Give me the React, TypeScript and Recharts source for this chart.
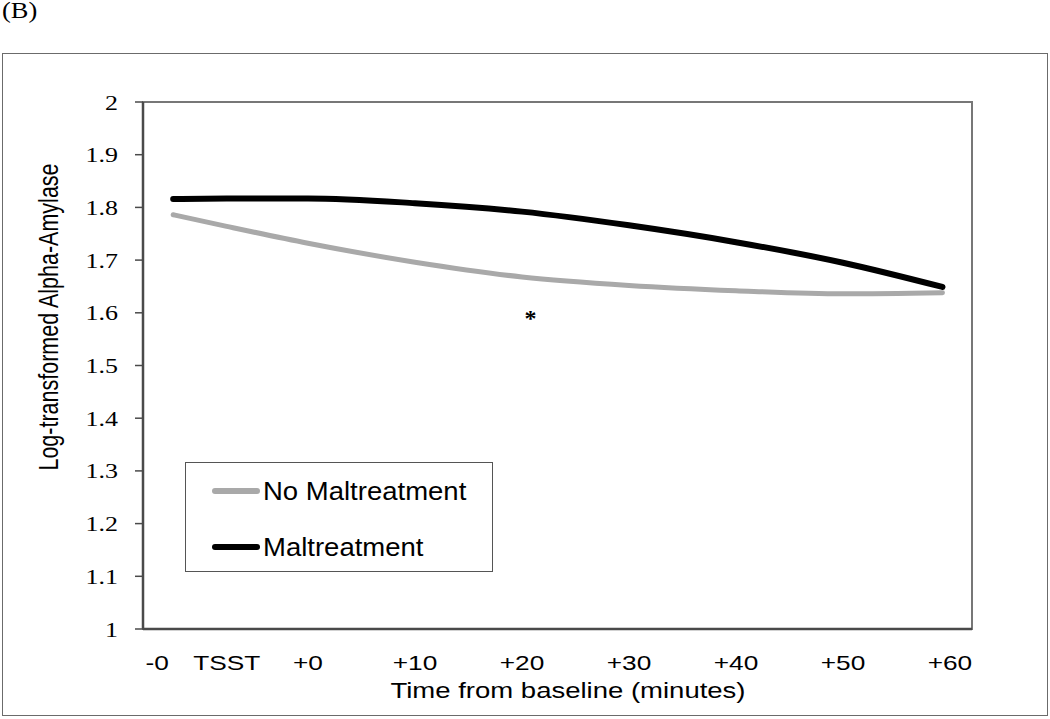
import React from 'react';
import { LineChart, Line, XAxis, YAxis, Legend, ReferenceArea, ReferenceDot } from 'recharts';

// Time (minutes from baseline) of each sampled point along the curves
const timePoints = [-12.6, -7.6, 0, 10, 20, 30, 40, 50, 59.3];
const noMaltreatment = [1.786, 1.764, 1.732, 1.696, 1.668, 1.652, 1.642, 1.636, 1.638];
const maltreatment = [1.816, 1.817, 1.817, 1.808, 1.792, 1.766, 1.734, 1.695, 1.649];

const xTickValues = [-14.1, -7.6, 0, 10, 20, 30, 40, 50, 60];
const xTickLabels = ['-0', 'TSST', '+0', '+10', '+20', '+30', '+40', '+50', '+60'];
const yTickValues = [1, 1.1, 1.2, 1.3, 1.4, 1.5, 1.6, 1.7, 1.8, 1.9, 2];
const xDomain = [-15.42, 62.06];
const yDomain = [1, 2];
const significanceMark = { t: 20.8, v: 1.596, label: '*' };

const seriesNames = ['No Maltreatment', 'Maltreatment'];
const seriesColors = ['#a9a9a9', '#000000'];

const data = timePoints.map((t, i) => ({ t, noMal: noMaltreatment[i], mal: maltreatment[i] }));

const SANS = '"Liberation Sans", Arial, sans-serif';
const SERIF = '"Liberation Serif", "Times New Roman", serif';

const XTick = (props: any) => {
  const { x, y, payload } = props;
  const idx = xTickValues.indexOf(payload.value);
  const label = idx >= 0 ? xTickLabels[idx] : String(payload.value);
  return (
    <text
      transform={`translate(${x},${y + 41}) scale(1.25,1)`}
      textAnchor="middle"
      style={{ fontFamily: SANS, fontSize: 21 }}
      fill="#000"
    >
      {label}
    </text>
  );
};

const YTick = (props: any) => {
  const { x, y, payload } = props;
  return (
    <text
      transform={`translate(${x - 17},${y + 7.5}) scale(1.18,1)`}
      textAnchor="end"
      style={{ fontFamily: SERIF, fontSize: 22 }}
      fill="#000"
    >
      {String(payload.value)}
    </text>
  );
};

const LegendBox = () => {
  return (
    <div
      style={{
        position: 'relative',
        width: 308,
        height: 110,
        border: '1.5px solid #555',
        boxSizing: 'border-box',
        background: '#fff',
      }}
    >
      {seriesNames.map((name, i) => (
        <div key={name} style={{ position: 'absolute', left: 0, top: i === 0 ? 28 : 84, width: '100%' }}>
          <div
            style={{
              position: 'absolute',
              left: 26,
              top: -3,
              width: 48,
              height: 6,
              borderRadius: 3,
              background: seriesColors[i],
            }}
          />
          <div
            style={{
              position: 'absolute',
              left: 77,
              top: -15,
              fontFamily: SANS,
              fontSize: 25,
              lineHeight: '30px',
              whiteSpace: 'nowrap',
              color: '#000',
              transform: 'scaleX(1.1)',
              transformOrigin: 'left center',
            }}
          >
            {name}
          </div>
        </div>
      ))}
    </div>
  );
};

export default function App() {
  return (
    <div style={{ position: 'absolute', left: 0, top: 0, width: 1050, height: 719, background: '#fff' }}>
      <div
        style={{
          position: 'absolute',
          left: 2,
          top: -2,
          fontFamily: SERIF,
          fontSize: 23,
          lineHeight: '26px',
          transform: 'scaleX(1.15)',
          transformOrigin: 'left top',
        }}
      >
        (B)
      </div>
      <div
        style={{
          position: 'absolute',
          left: 2,
          top: 53,
          width: 1046,
          height: 663,
          border: '1.5px solid #6b6b6b',
          boxSizing: 'border-box',
        }}
      />
      <div style={{ position: 'absolute', left: 0, top: 0 }}>
        <LineChart width={1050} height={719} data={data} margin={{ top: 102, right: 78, left: 43, bottom: 60 }}>
          <ReferenceArea
            x1={xDomain[0]}
            x2={xDomain[1]}
            y1={yDomain[0]}
            y2={yDomain[1]}
            fill="none"
            stroke="#777"
            strokeWidth={2}
            ifOverflow="visible"
          />
          <XAxis
            type="number"
            dataKey="t"
            domain={xDomain}
            ticks={xTickValues}
            interval={0}
            allowDataOverflow
            tickLine={false}
            tickSize={0}
            tickMargin={0}
            height={30}
            axisLine={{ stroke: '#4a4a4a', strokeWidth: 2.5 }}
            tick={<XTick />}
          />
          <YAxis
            type="number"
            domain={yDomain}
            ticks={yTickValues}
            interval={0}
            allowDataOverflow
            width={100}
            tickSize={8}
            tickMargin={0}
            tickLine={{ stroke: '#4a4a4a', strokeWidth: 1.5 }}
            axisLine={{ stroke: '#4a4a4a', strokeWidth: 2.5 }}
            tick={<YTick />}
          />
          <Line
            type="monotone"
            dataKey="noMal"
            name={seriesNames[0]}
            stroke={seriesColors[0]}
            strokeWidth={5}
            strokeLinecap="round"
            dot={false}
            activeDot={false}
            isAnimationActive={false}
          />
          <Line
            type="monotone"
            dataKey="mal"
            name={seriesNames[1]}
            stroke={seriesColors[1]}
            strokeWidth={6}
            strokeLinecap="round"
            dot={false}
            activeDot={false}
            isAnimationActive={false}
          />
          <ReferenceDot
            x={significanceMark.t}
            y={significanceMark.v}
            r={0}
            fill="none"
            stroke="none"
            label={(p: any) => {
              const vb = p.viewBox || {};
              const cx = (vb.x || 0) + (vb.width || 0) / 2;
              const cy = (vb.y || 0) + (vb.height || 0) / 2;
              return (
                <text
                  x={cx}
                  y={cy + 11}
                  textAnchor="middle"
                  style={{ fontFamily: SERIF, fontSize: 24, fontWeight: 'bold' }}
                  fill="#000"
                >
                  {significanceMark.label}
                </text>
              );
            }}
          />
          <Legend
            layout="vertical"
            align="center"
            verticalAlign="middle"
            wrapperStyle={{ left: 185, top: 462, width: 308, height: 110 }}
            content={<LegendBox />}
          />
        </LineChart>
      </div>
      <div
        style={{
          position: 'absolute',
          left: 568,
          top: 680,
          fontFamily: SANS,
          fontSize: 22,
          lineHeight: '22px',
          whiteSpace: 'nowrap',
          transform: 'translateX(-50%) scaleX(1.25)',
        }}
      >
        Time from baseline (minutes)
      </div>
      <div
        style={{
          position: 'absolute',
          left: 49,
          top: 317,
          fontFamily: SANS,
          fontSize: 21.5,
          lineHeight: '22px',
          whiteSpace: 'nowrap',
          transform: 'translate(-50%, -50%) scaleX(1.3) rotate(-90deg)',
        }}
      >
        Log-transformed Alpha-Amylase
      </div>
    </div>
  );
}
